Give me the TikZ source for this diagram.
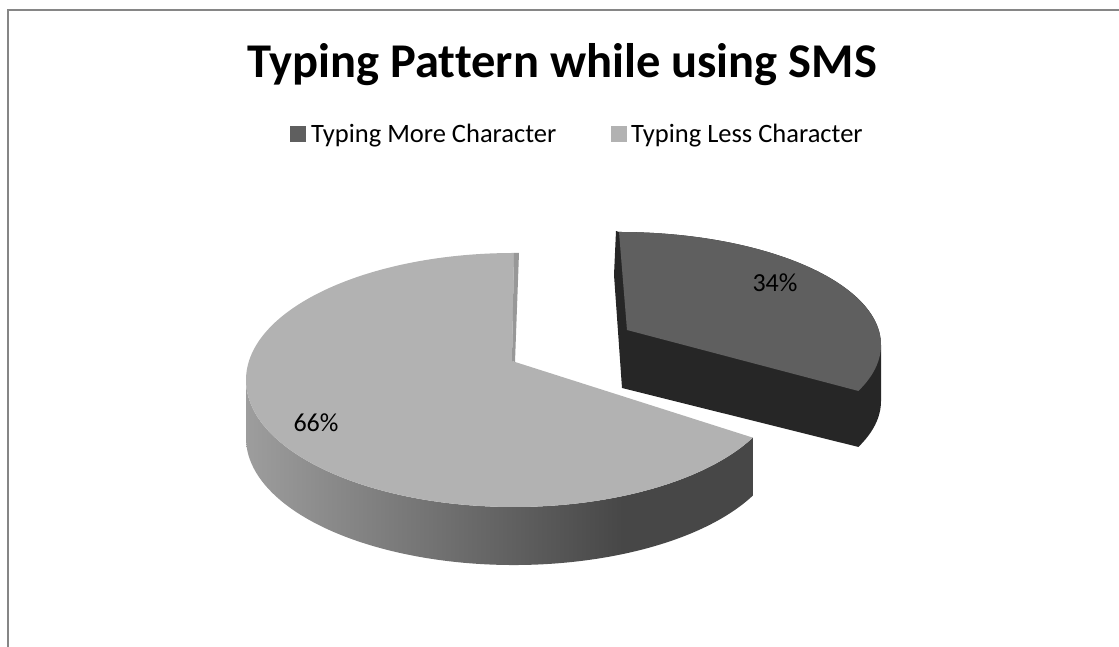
\documentclass[tikz,border=0pt]{standalone}
\usepackage{fontspec}
\setmainfont{Carlito}[Ligatures=NoCommon]
\usetikzlibrary{calc,positioning}

\definecolor{moretop}{HTML}{5F5F5F}
\definecolor{moreside}{HTML}{262626}
\definecolor{lesstop}{HTML}{B2B2B2}
\definecolor{lesscut}{HTML}{989898}
\definecolor{framegray}{HTML}{868686}
\pgfdeclarehorizontalshading{lessside}{100bp}{color(0bp)=(lesscut!95!white); color(25bp)=(lesscut!95!white); color(62bp)=(black!72); color(100bp)=(black!72)}

\begin{document}
\begin{tikzpicture}
[x=1pt, y=1pt,
frame/.style={draw=framegray, line width=2pt},
legsq/.style={rectangle, inner sep=0pt, minimum size=16pt},
legtext/.style={inner sep=0pt, anchor=base west, font=\fontsize{26.5}{30}\selectfont},
pct/.style={inner sep=0pt, anchor=base, font=\fontsize{26}{30}\selectfont}]

\useasboundingbox (0,0) rectangle (1119,647);
\draw[frame] (1119,637) -- (8,637) -- (8,0);

\node[inner sep=0pt, anchor=base, font=\fontsize{48.5}{56}\selectfont\bfseries] (title) at (562,569) {Typing Pattern while using SMS};

\node[legsq, fill=moretop] (sqmore) at (298,513) {};
\node[legtext] (txtmore) at (311,504) {Typing More Character};
\node[legsq, fill=lesstop] (sqless) at (619,513) {};
\node[legtext] (txtless) at (631,504) {Typing Less Character};

% small slice, pulled out
\coordinate (smallc) at (619,302);
\coordinate (smallv) at (627,317);
\fill[moreside] (616,416) -- (614,372) -- (622,259)
  -- ($(smallc)+(-24:262 and 113)+(0,-56)$) arc[start angle=-24, end angle=0, x radius=262, y radius=113]
  -- ++(0,56) arc[start angle=0, end angle=90, x radius=262, y radius=113] -- cycle;
\fill[moretop] (smallv) -- ($(smallc)+(90:262 and 113)$)
  arc[start angle=90, end angle=-24, x radius=262, y radius=113] -- cycle;

% big slice
\coordinate (bigc) at (514,267);
\coordinate (bigv) at (512,286);
\path[shading=lessside] ($(bigc)+(180:268 and 127)$)
  arc[start angle=180, end angle=333, x radius=268, y radius=127]
  -- ++(0,-58) arc[start angle=333, end angle=180, x radius=268, y radius=127] -- cycle;
\fill[lesstop] (bigv) -- ($(bigc)+(90:268 and 127)$)
  arc[start angle=90, end angle=333, x radius=268, y radius=127] -- cycle;
\fill[lesscut] (514,394) -- (519,394) -- (515,285) -- (bigv) -- cycle;

\node[pct] (pmore) at (775,355) {34\%};
\node[pct] (pless) at (316,215) {66\%};
\end{tikzpicture}
\end{document}
